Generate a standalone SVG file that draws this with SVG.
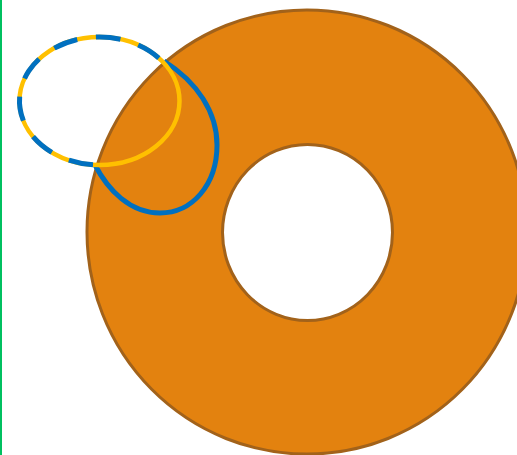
<svg xmlns="http://www.w3.org/2000/svg" width="517" height="455" viewBox="0 0 517 455">
  <style>
    .donut { fill: #E3820F; stroke: #A2621A; stroke-width: 3; fill-rule: evenodd; }
    .yellow { fill: none; stroke: #FFC000; stroke-width: 4.5; }
    .blue { fill: none; stroke: #0070C0; stroke-width: 5; }
    .blue-dash { fill: none; stroke: #0070C0; stroke-width: 5; stroke-dasharray: 24.5 18.8; stroke-dashoffset: 40.9; }
  </style>
  <rect width="517" height="455" fill="#FFFFFF"/>
  <line x1="1" y1="0" x2="1" y2="455" stroke="#00C060" stroke-width="2"/>
  <g id="donut">
    <path class="donut" d="M87,232 A220,222 0 1 0 527,232 A220,222 0 1 0 87,232 Z M222.5,232.5 A85,88 0 1 1 392.5,232.5 A85,88 0 1 1 222.5,232.5 Z"/>
  </g>
  <g id="blue-curve-solid">
    <path class="blue" d="M164,61 C197,82 217,112 217,145 C217,185 192,213 160,213 C130,213 108,190 95,165"/>
  </g>
  <g id="yellow-ellipse">
    <ellipse class="yellow" cx="99.5" cy="101" rx="80" ry="64"/>
  </g>
  <g id="blue-curve-dashed">
    <path class="blue-dash" d="M95.3,164.9 A80,64 0 1 1 163.4,62.5"/>
  </g>
</svg>
